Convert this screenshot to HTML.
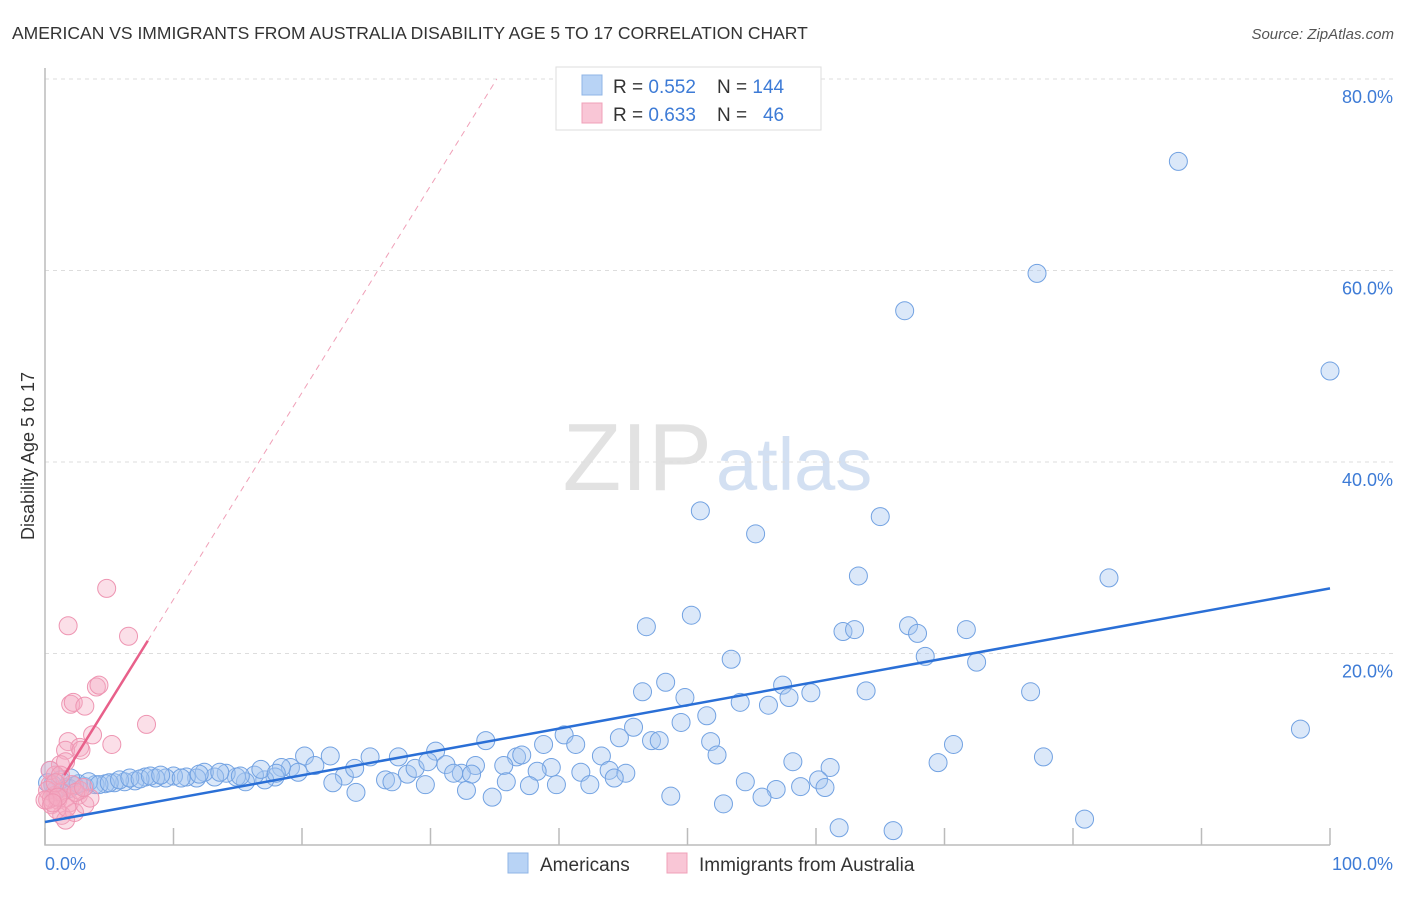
<!DOCTYPE html>
<html><head><meta charset="utf-8"><style>
body{margin:0;background:#fff;font-family:"Liberation Sans",sans-serif}
svg text{font-family:"Liberation Sans",sans-serif}
</style></head><body>
<svg width="1406" height="892">
<text x="12" y="39" font-size="17.5" fill="#333">AMERICAN VS IMMIGRANTS FROM AUSTRALIA DISABILITY AGE 5 TO 17 CORRELATION CHART</text>
<text x="1394" y="39" font-size="15" fill="#555" font-style="italic" text-anchor="end">Source: ZipAtlas.com</text>
<text x="712" y="490" font-size="96" fill="#e2e2e2" text-anchor="end" font-family="Liberation Serif">ZIP</text>
<text x="716" y="490" font-size="74" fill="#d3e0f2">atlas</text>
<g id="grid"></g>
<g id="pts"></g>
<g id="lines"></g>
<text transform="translate(34,456) rotate(-90)" font-size="18" fill="#333" text-anchor="middle">Disability Age 5 to 17</text>
<text x="45" y="870" font-size="18" fill="#3d7bd6">0.0%</text>
<text x="1393" y="870" font-size="18" fill="#3d7bd6" text-anchor="end">100.0%</text>
<g>
<rect x="556" y="67" width="265" height="63" fill="#fff" stroke="#ddd"/>
<rect x="582" y="75" width="20" height="20" fill="#b8d3f5" stroke="#8fb4e6"/>
<rect x="582" y="103" width="20" height="20" fill="#f9c6d6" stroke="#f0a0b8"/>
<text x="613" y="93" font-size="19" fill="#333" xml:space="preserve">R = <tspan fill="#3d7bd6">0.552</tspan>    N = <tspan fill="#3d7bd6">144</tspan></text>
<text x="613" y="121" font-size="19" fill="#333" xml:space="preserve">R = <tspan fill="#3d7bd6">0.633</tspan>    N =   <tspan fill="#3d7bd6">46</tspan></text>
</g>
<g>
<rect x="508" y="853" width="20" height="20" fill="#b8d3f5" stroke="#8fb4e6"/>
<text x="540" y="871" font-size="19" fill="#333">Americans</text>
<rect x="667" y="853" width="20" height="20" fill="#f9c6d6" stroke="#f0a0b8"/>
<text x="699" y="871" font-size="19" fill="#333">Immigrants from Australia</text>
</g>
</svg>
<script>
const blueX=[88.2,77.2,66.9,100,51.0,55.3,65.0,63.3,82.8,46.8,50.3,62.1,63.0,67.2,67.9,71.7,53.4,68.5,72.5,46.5,48.3,49.8,57.4,59.6,63.9,76.7,54.1,56.3,57.9,97.7,45.8,49.5,51.5,40.4,41.3,44.7,47.2,47.8,51.8,38.8,34.3,30.4,52.3,70.7,77.7,69.5,58.2,61.1,43.3,36.7,37.1,35.7,33.5,31.2,32.4,31.8,33.2,39.4,38.3,41.7,43.9,45.2,44.3,42.4,39.8,37.7,35.9,32.8,34.8,54.5,56.9,58.8,60.2,60.7,48.7,52.8,55.8,61.8,66.0,80.9,25.3,27.5,23.3,24.1,26.5,28.2,28.8,29.6,22.2,20.2,19.1,19.7,18.4,17.9,17.1,16.3,15.6,14.9,14.1,13.2,12.4,11.8,11.0,10.0,9.4,8.6,7.8,7.0,6.2,5.4,4.7,3.9,3.1,2.3,1.6,0.8,0.4,1.2,22.4,24.2,27.0,29.8,0.6,1.9,2.6,3.4,4.2,5.0,5.8,6.6,7.4,8.2,9.0,10.6,12.0,13.6,15.2,16.8,18.0,21.0,0.2,2.0];
const blueY=[71.4,59.7,55.8,49.5,34.9,32.5,34.3,28.1,27.9,22.8,24.0,22.3,22.5,22.9,22.1,22.5,19.4,19.7,19.1,16.0,17.0,15.4,16.7,15.9,16.1,16.0,14.9,14.6,15.4,12.1,12.3,12.8,13.5,11.5,10.5,11.2,10.9,10.9,10.8,10.5,10.9,9.8,9.4,10.5,9.2,8.6,8.7,8.1,9.3,9.2,9.4,8.3,8.3,8.4,7.5,7.5,7.4,8.1,7.7,7.6,7.8,7.5,7.0,6.3,6.3,6.2,6.6,5.7,5.0,6.6,5.8,6.1,6.8,6.0,5.1,4.3,5.0,1.8,1.5,2.7,9.2,9.2,7.2,8.0,6.8,7.4,8.0,6.3,9.3,9.3,8.1,7.6,8.1,7.1,6.8,7.3,6.6,7.1,7.5,7.1,7.6,7.0,7.1,7.2,7.0,7.0,7.1,6.7,6.6,6.5,6.4,6.3,6.1,6.2,6.0,5.7,7.8,6.8,6.5,5.5,6.6,8.7,6.3,5.9,6.4,6.6,6.3,6.5,6.8,7.0,6.9,7.2,7.3,7.0,7.4,7.6,7.2,7.9,7.5,8.3,6.5,7.0];
const pinkX=[4.8,1.8,6.5,4.0,4.2,2.0,2.2,3.1,7.9,3.7,5.2,1.8,2.7,1.6,2.8,1.2,1.6,0.8,0.4,0.8,0.2,0.5,1.0,1.6,1.9,2.6,1.3,1.6,2.3,3.1,2.7,0.2,0.9,2.1,1.3,3.5,0.4,1.2,0.5,1.7,0,0.8,1.0,2.4,3.0,0.6];
const pinkY=[26.8,22.9,21.8,16.5,16.7,14.7,14.9,14.5,12.6,11.5,10.5,10.8,10.2,9.9,9.9,8.4,8.7,7.3,6.3,5.2,4.7,4.2,4.7,4.9,4.4,5.2,3.1,2.6,3.4,4.2,5.7,5.7,3.7,6.3,5.5,4.9,7.8,7.3,4.9,3.9,4.7,6.5,5.0,5.5,6.0,4.4];
const yTicks=[20,40,60,80];
const blueTrend=[2.4,26.8];
const pinkTrend=[4.05,2.16];
const X=v=>45+v*12.85, Y=v=>845-v*9.575;
const NS='http://www.w3.org/2000/svg';
function mk(t,a,p){const e=document.createElementNS(NS,t);for(const k in a)e.setAttribute(k,a[k]);p.appendChild(e);return e;}
const g=document.getElementById('grid');
yTicks.forEach(t=>{
 const l=mk('line',{x1:45,x2:1395,y1:Y(t),y2:Y(t),stroke:'#ddd','stroke-dasharray':'4,4'},g);
 
 
 const tx=mk('text',{x:1393,y:Y(t)+24,'font-size':18,fill:'#3d7bd6','text-anchor':'end'},g);
 tx.textContent=t.toFixed(1)+'%';
 
 
});
const ax=mk('path',{d:'M45 68V845H1330',stroke:'#bbb',fill:'none','stroke-width':1.5},g);


for(let i=0;i<=10;i++){const tk=mk('line',{x1:X(i*10),x2:X(i*10),y1:828,y2:845,stroke:'#bbb','stroke-width':1.5},g);
 
 }
const P=document.getElementById('pts');
blueX.forEach((v,i)=>{const c=mk('circle',{cx:X(v),cy:Y(blueY[i]),r:9,fill:'rgba(165,198,240,0.4)',stroke:'#72a2e2','stroke-width':1},P);
 
 });
pinkX.forEach((v,i)=>{const c=mk('circle',{cx:X(v),cy:Y(pinkY[i]),r:9,fill:'rgba(245,170,195,0.38)',stroke:'#ee95b2','stroke-width':1},P);
 
 });
const L=document.getElementById('lines');
const bl=mk('line',{x1:X(0),y1:Y(blueTrend[0]),x2:X(100),y2:Y(blueTrend[1]),stroke:'#2a6fd6','stroke-width':2.5},L);


const pf=x=>pinkTrend[0]+pinkTrend[1]*x;
const xe=(80-pinkTrend[0])/pinkTrend[1];
const pd=mk('line',{x1:X(8),y1:Y(pf(8)),x2:X(xe),y2:Y(80),stroke:'#f0a0b8','stroke-width':1,'stroke-dasharray':'6,5'},L);


const ps=mk('line',{x1:X(1.5),y1:Y(pf(1.5)),x2:X(8),y2:Y(pf(8)),stroke:'#e8608a','stroke-width':2.5},L);


</script>
</body></html>
